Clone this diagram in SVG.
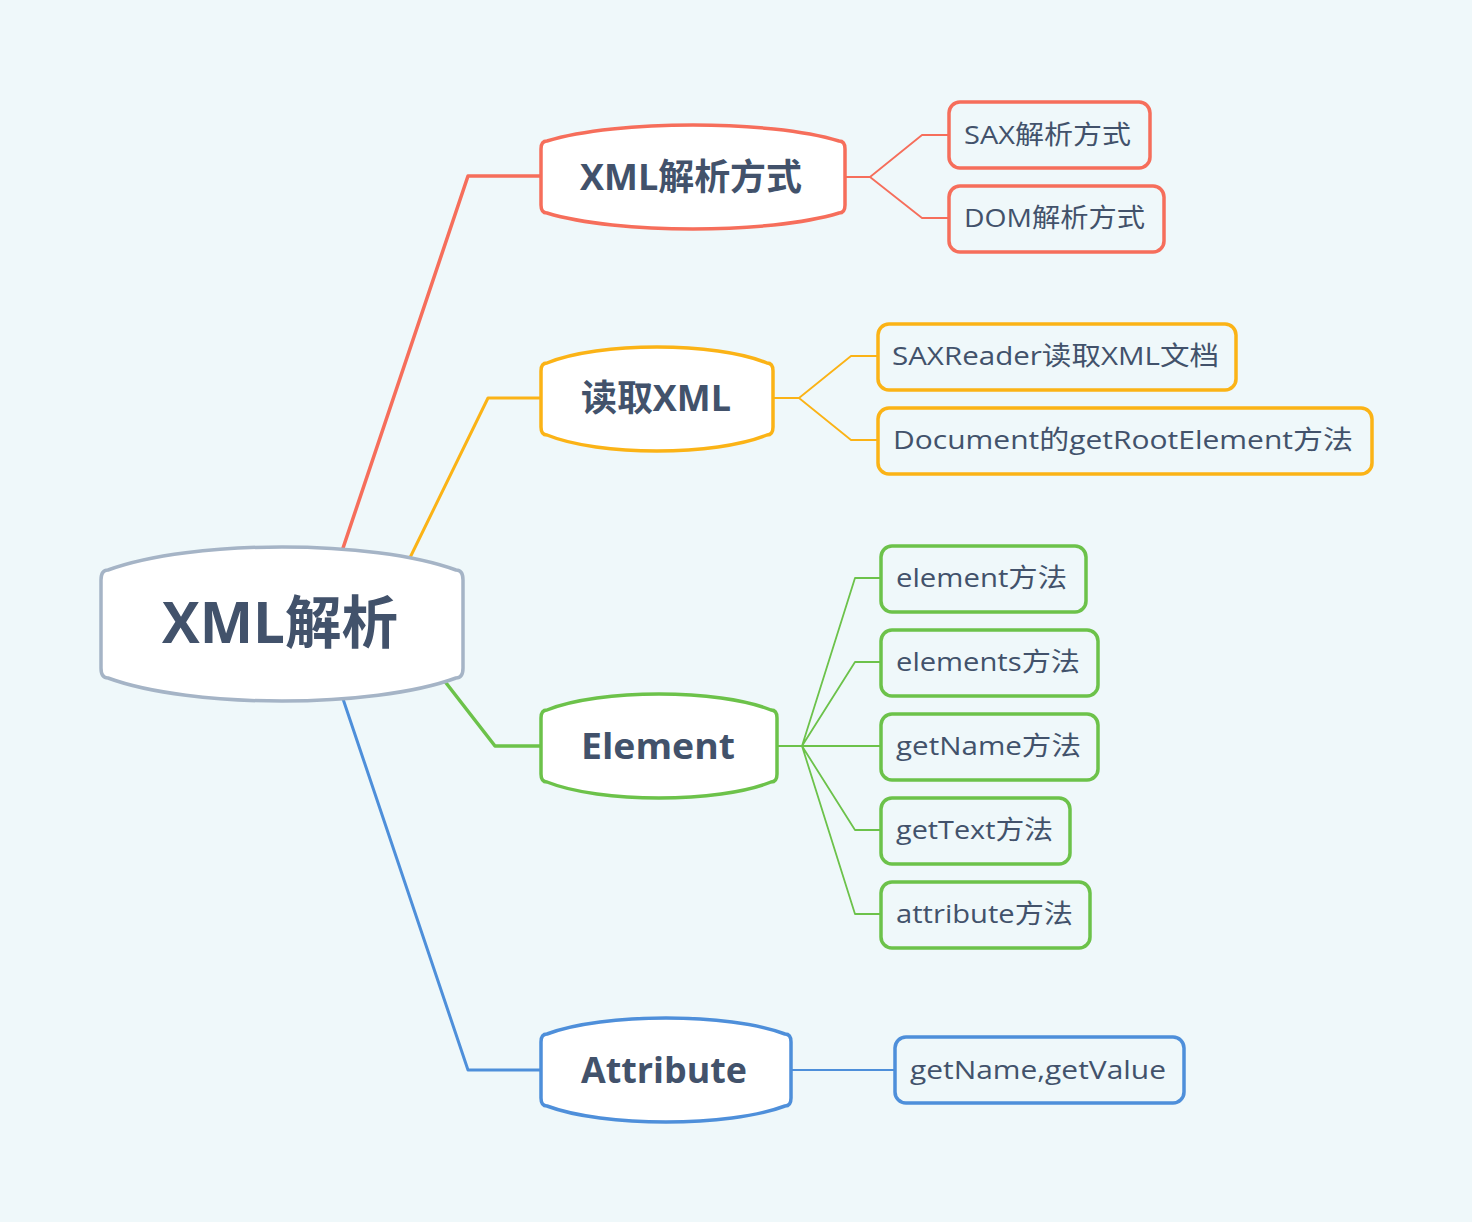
<svg xmlns="http://www.w3.org/2000/svg" width="1472" height="1222" viewBox="0 0 1472 1222">
<style>
.bg{fill:#EFF8FA}
.main{fill:#FFFFFF;stroke-width:3.5}
.leaf{fill:#EFF8FA;stroke-width:3.5}
.red{stroke:#F66E5B}
.org{stroke:#FBB316}
.grn{stroke:#6CC24A}
.blu{stroke:#4E8FDA}
.gry{stroke:#A5B4C6}
.c{fill:none;stroke-linejoin:round;stroke-linecap:round}
.t{fill:#42526B;font-family:"Open Sans","Noto Sans CJK SC",sans-serif}
.tb{font-weight:bold}
.tl{font-size:26px}
</style>
<rect class="bg" x="0" y="0" width="1472" height="1222"/>
<g id="connectors">
<path class="c red" stroke-width="3.5" d="M339,560 L468,176 L541,176"/>
<path class="c org" stroke-width="3" d="M403,572 L488,398 L541,398"/>
<path class="c grn" stroke-width="3.5" d="M436,670 L495,746 L541,746"/>
<path class="c blu" stroke-width="3" d="M340,690 L468,1070 L541,1070"/>
<path class="c red" stroke-width="1.8" d="M845,177 L870,177 L922,135 L949,135 M870,177 L922,218 L949,218"/>
<path class="c org" stroke-width="1.8" d="M773,398 L799,398 L851,356 L878,356 M799,398 L851,440 L878,440"/>
<path class="c grn" stroke-width="1.8" d="M777,746 L802,746 L855,578 L881,578 M802,746 L855,662 L881,662 M802,746 L881,746 M802,746 L855,830 L881,830 M802,746 L855,914 L881,914"/>
<path class="c blu" stroke-width="1.8" d="M791,1070 L895,1070"/>
</g>
<g id="root">
<path class="main gry" d="M108,570 C191.5,539.3 372.5,539.3 456,570 Q463,570 463,580 L463,668 Q463,678 456,678 C372.5,708.7 191.5,708.7 108,678 Q101,678 101,668 L101,580 Q101,570 108,570 Z"/>
<text class="t tb" x="162" y="643" font-size="57" textLength="236" lengthAdjust="spacingAndGlyphs">XML解析</text>
</g>
<g id="b1">
<path class="main red" d="M547,141 C617,119.7 769,119.7 839,141 Q845,141 845,149 L845,205 Q845,213 839,213 C769,234.3 617,234.3 547,213 Q541,213 541,205 L541,149 Q541,141 547,141 Z"/>
<text class="t tb" x="580" y="190" font-size="36" textLength="222" lengthAdjust="spacingAndGlyphs">XML解析方式</text>
</g>
<g id="b2">
<path class="main org" d="M547,363 C599,341.7 715,341.7 767,363 Q773,363 773,371 L773,427 Q773,435 767,435 C715,456.3 599,456.3 547,435 Q541,435 541,427 L541,371 Q541,363 547,363 Z"/>
<text class="t tb" x="581" y="411" font-size="36" textLength="150" lengthAdjust="spacingAndGlyphs">读取XML</text>
</g>
<g id="b3">
<path class="main grn" d="M547,710 C600,688.7 718,688.7 771,710 Q777,710 777,718 L777,774 Q777,782 771,782 C718,803.3 600,803.3 547,782 Q541,782 541,774 L541,718 Q541,710 547,710 Z"/>
<text class="t tb" x="581" y="759" font-size="36" textLength="154" lengthAdjust="spacingAndGlyphs">Element</text>
</g>
<g id="b4">
<path class="main blu" d="M547,1034 C603.5,1012.7 728.5,1012.7 785,1034 Q791,1034 791,1042 L791,1098 Q791,1106 785,1106 C728.5,1127.3 603.5,1127.3 547,1106 Q541,1106 541,1098 L541,1042 Q541,1034 547,1034 Z"/>
<text class="t tb" x="581" y="1083" font-size="36" textLength="166" lengthAdjust="spacingAndGlyphs">Attribute</text>
</g>
<g id="l1">
<rect class="leaf red" x="949" y="102" width="201" height="66" rx="11"/>
<text class="t tl" x="964" y="144" textLength="167" lengthAdjust="spacingAndGlyphs">SAX解析方式</text>
</g>
<g id="l2">
<rect class="leaf red" x="949" y="186" width="215" height="66" rx="11"/>
<text class="t tl" x="964" y="227" textLength="181" lengthAdjust="spacingAndGlyphs">DOM解析方式</text>
</g>
<g id="l3">
<rect class="leaf org" x="878" y="324" width="358" height="66" rx="11"/>
<text class="t tl" x="892" y="365" textLength="327" lengthAdjust="spacingAndGlyphs">SAXReader读取XML文档</text>
</g>
<g id="l4">
<rect class="leaf org" x="878" y="408" width="494" height="66" rx="11"/>
<text class="t tl" x="893" y="449" textLength="460" lengthAdjust="spacingAndGlyphs">Document的getRootElement方法</text>
</g>
<g id="l5">
<rect class="leaf grn" x="881" y="546" width="205" height="66" rx="11"/>
<text class="t tl" x="896" y="587" textLength="171" lengthAdjust="spacingAndGlyphs">element方法</text>
</g>
<g id="l6">
<rect class="leaf grn" x="881" y="630" width="217" height="66" rx="11"/>
<text class="t tl" x="896" y="671" textLength="184" lengthAdjust="spacingAndGlyphs">elements方法</text>
</g>
<g id="l7">
<rect class="leaf grn" x="881" y="714" width="217" height="66" rx="11"/>
<text class="t tl" x="896" y="755" textLength="185" lengthAdjust="spacingAndGlyphs">getName方法</text>
</g>
<g id="l8">
<rect class="leaf grn" x="881" y="798" width="189" height="66" rx="11"/>
<text class="t tl" x="896" y="839" textLength="157" lengthAdjust="spacingAndGlyphs">getText方法</text>
</g>
<g id="l9">
<rect class="leaf grn" x="881" y="882" width="209" height="66" rx="11"/>
<text class="t tl" x="896" y="923" textLength="177" lengthAdjust="spacingAndGlyphs">attribute方法</text>
</g>
<g id="l10">
<rect class="leaf blu" x="895" y="1037" width="289" height="66" rx="11"/>
<text class="t tl" x="910" y="1079" textLength="256" lengthAdjust="spacingAndGlyphs">getName,getValue</text>
</g>
</svg>
